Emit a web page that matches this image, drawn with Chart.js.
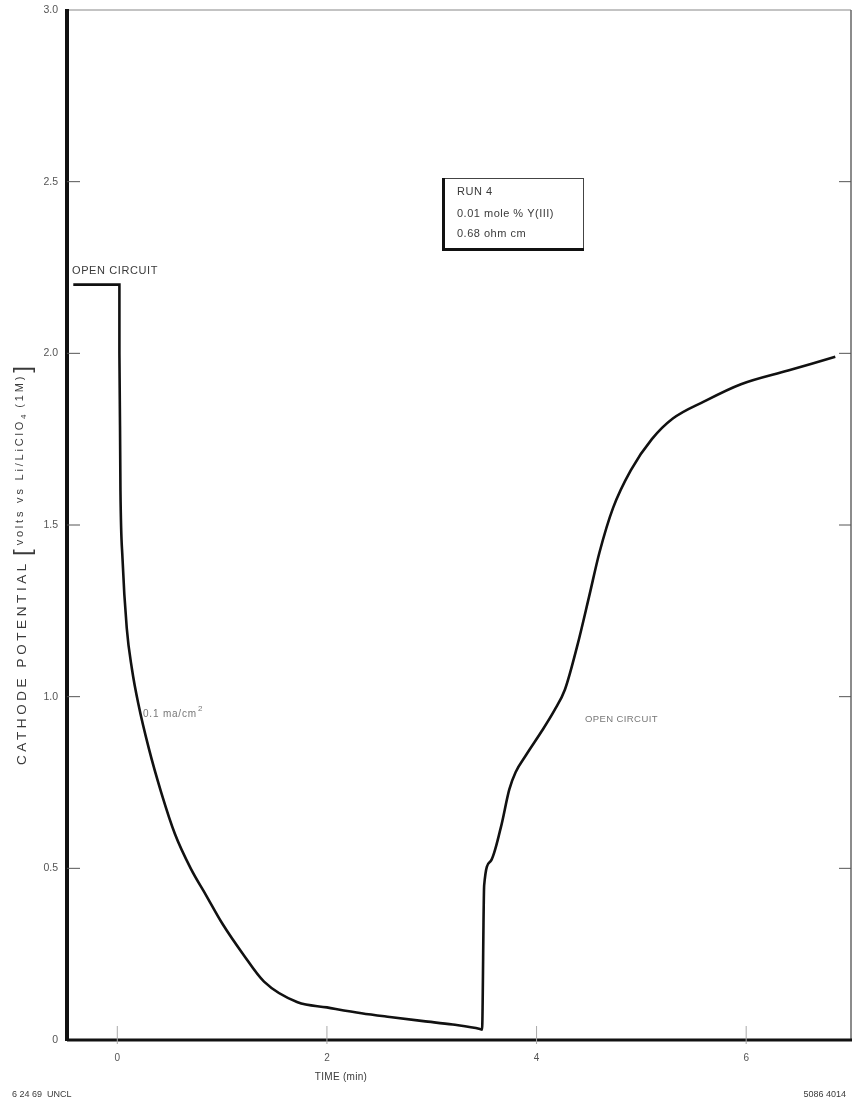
<!DOCTYPE html>
<html>
<head>
<meta charset="utf-8">
<script src="https://cdn.jsdelivr.net/npm/chart.js@4.4.1/dist/chart.umd.min.js"></script>
<style>
	body { margin: 0; background: #fff; }
	#wrap { width: 853px; height: 1108px; position: relative; }
</style>
</head>
<body>
<div id="wrap"><canvas id="runChart"></canvas></div>
<script>
// time (min) and cathode potential (volts)
var timeMin = [-0.42, 0.02, 0.02, 0.03, 0.05, 0.09, 0.14, 0.20, 0.30, 0.42, 0.55, 0.70, 0.85, 1.00, 1.20, 1.40, 1.72, 2.00, 2.33, 2.60, 2.92, 3.20, 3.46, 3.48,
	3.50, 3.56, 3.66, 3.74, 3.80, 3.90, 4.05, 4.17, 4.27, 4.39, 4.50, 4.60, 4.73, 4.90, 5.10, 5.30, 5.60, 5.95, 6.40, 6.85];
var potential = [2.20, 2.20, 2.00, 1.60, 1.40, 1.20, 1.08, 0.98, 0.85, 0.72, 0.60, 0.50, 0.42, 0.34, 0.25, 0.17, 0.11, 0.095, 0.078, 0.067, 0.055, 0.045, 0.032, 0.03,
	0.45, 0.52, 0.62, 0.73, 0.78, 0.83, 0.90, 0.96, 1.02, 1.15, 1.29, 1.42, 1.55, 1.66, 1.75, 1.81, 1.86, 1.91, 1.95, 1.99];

var xTicks = [0, 2, 4, 6];
var yTicks = [0, 0.5, 1.0, 1.5, 2.0, 2.5, 3.0];
var boxLines = ['RUN 4', '0.01 mole % Y(III)', '0.68 ohm cm'];

var points = [];
for (var i = 0; i < timeMin.length; i++) {
	points.push({ x: timeMin[i], y: potential[i] });
}

var txt = '#3a3a3a';
var fam = '"Liberation Sans", Arial, sans-serif';

var decor = {
	id: 'decor',
	beforeDatasetsDraw: function(chart) {
		var ctx = chart.ctx, a = chart.chartArea;
		var xs = chart.scales.x, ys = chart.scales.y;
		ctx.save();
		// frame: heavy left and bottom, light top and right
		ctx.strokeStyle = '#888';
		ctx.lineWidth = 1.2;
		ctx.beginPath();
		ctx.moveTo(a.left, a.top); ctx.lineTo(a.right, a.top);
		ctx.stroke();
		ctx.strokeStyle = '#666';
		ctx.lineWidth = 1.5;
		ctx.beginPath();
		ctx.moveTo(a.right, a.top); ctx.lineTo(a.right, a.bottom);
		ctx.stroke();
		ctx.strokeStyle = '#111';
		ctx.lineWidth = 4;
		ctx.beginPath();
		ctx.moveTo(a.left, a.top - 1); ctx.lineTo(a.left, a.bottom + 1);
		ctx.stroke();
		ctx.lineWidth = 3;
		ctx.beginPath();
		ctx.moveTo(a.left, a.bottom); ctx.lineTo(a.right + 1, a.bottom);
		ctx.stroke();

		// inward ticks
		ctx.strokeStyle = '#555';
		ctx.lineWidth = 1;
		yTicks.forEach(function(v) {
			if (v == 0 || v == 3) return;
			var py = ys.getPixelForValue(v);
			ctx.beginPath();
			ctx.moveTo(a.left, py); ctx.lineTo(a.left + 13, py);
			ctx.moveTo(a.right, py); ctx.lineTo(a.right - 12, py);
			ctx.stroke();
		});
		ctx.strokeStyle = '#aaa';
		xTicks.forEach(function(v) {
			var px = xs.getPixelForValue(v);
			ctx.beginPath();
			ctx.moveTo(px, a.bottom + 4); ctx.lineTo(px, a.bottom - 14);
			ctx.stroke();
		});
		ctx.restore();
	},
	afterDraw: function(chart) {
		var ctx = chart.ctx;
		ctx.save();
		ctx.fillStyle = txt;
		ctx.textBaseline = 'alphabetic';
		ctx.textAlign = 'left';

		ctx.font = '11px ' + fam;
		ctx.letterSpacing = '0.6px';
		ctx.fillText('OPEN CIRCUIT', 72, 274);

		ctx.fillStyle = '#777';
		ctx.font = '10px ' + fam;
		ctx.letterSpacing = '0.8px';
		ctx.fillText('0.1 ma/cm', 143, 717);
		var w = ctx.measureText('0.1 ma/cm').width;
		ctx.font = '8px ' + fam;
		ctx.fillText('2', 143 + w + 1, 711);

		ctx.font = '9.5px ' + fam;
		ctx.letterSpacing = '0.4px';
		ctx.fillText('OPEN CIRCUIT', 585, 722);

		// run box
		ctx.fillStyle = '#fff';
		ctx.fillRect(443, 179, 140, 70);
		ctx.strokeStyle = '#444';
		ctx.lineWidth = 1;
		ctx.strokeRect(443.5, 178.5, 140, 71);
		ctx.fillStyle = '#111';
		ctx.fillRect(442, 178, 3, 73);
		ctx.fillRect(442, 248, 142, 3);
		ctx.fillStyle = txt;
		ctx.font = '11px ' + fam;
		ctx.letterSpacing = '0.5px';
		ctx.fillText(boxLines[0], 457, 195);
		ctx.fillText(boxLines[1], 457, 217);
		ctx.fillText(boxLines[2], 457, 237);

		// axis titles
		ctx.font = '10px ' + fam;
		ctx.letterSpacing = '0.3px';
		ctx.textAlign = 'center';
		ctx.fillText('TIME (min)', 341, 1080);

		ctx.textAlign = 'left';
		ctx.font = '9px ' + fam;
		ctx.letterSpacing = '0px';
		ctx.fillText('6 24 69  UNCL', 12, 1097);
		ctx.textAlign = 'right';
		ctx.fillText('5086 4014', 846, 1097);

		// rotated y title
		ctx.translate(26, 765);
		ctx.rotate(-Math.PI / 2);
		ctx.textAlign = 'left';
		ctx.font = '13.5px ' + fam;
		ctx.letterSpacing = '3.6px';
		var t1 = 'CATHODE POTENTIAL';
		ctx.fillText(t1, 0, 0);
		var cx = ctx.measureText(t1).width + 4;
		ctx.font = '24px ' + fam;
		ctx.letterSpacing = '0px';
		ctx.fillText('[', cx, 4);
		cx += ctx.measureText('[').width + 4;
		ctx.font = '11px ' + fam;
		ctx.letterSpacing = '2.8px';
		var t2 = 'volts vs Li/LiClO';
		ctx.fillText(t2, cx, -3);
		cx += ctx.measureText(t2).width;
		ctx.font = '8px ' + fam;
		ctx.fillText('4', cx, 0);
		cx += ctx.measureText('4').width + 4;
		ctx.font = '11px ' + fam;
		ctx.fillText('(1M)', cx, -3);
		cx += ctx.measureText('(1M)').width + 1;
		ctx.font = '24px ' + fam;
		ctx.letterSpacing = '0px';
		ctx.fillText(']', cx, 4);
		ctx.restore();
	}
};

var ctx = document.getElementById('runChart').getContext('2d');
var runChart = new Chart(ctx, {
	type: 'line',
	data: {
		datasets: [{
			data: points,
			borderColor: '#111',
			borderWidth: 2.6,
			pointRadius: 0,
			fill: false,
			cubicInterpolationMode: 'monotone'
		}]
	},
	options: {
		responsive: true,
		maintainAspectRatio: false,
		animation: false,
		layout: { padding: { top: 10, right: 2, left: 0, bottom: 0 } },
		plugins: {
			legend: { display: false },
			tooltip: { enabled: false }
		},
		scales: {
			x: {
				type: 'linear',
				min: -0.48,
				max: 7.0,
				grid: { display: false },
				border: { display: false },
				afterBuildTicks: function(scale) {
					scale.ticks = xTicks.map(function(v) { return { value: v }; });
				},
				afterFit: function(scale) { scale.height = 68; },
				ticks: {
					color: '#555',
					padding: 4,
					font: { family: fam, size: 10 },
					callback: function(v) { return String(v); }
				}
			},
			y: {
				type: 'linear',
				min: 0,
				max: 3.0,
				grid: { display: false },
				border: { display: false },
				afterBuildTicks: function(scale) {
					scale.ticks = yTicks.map(function(v) { return { value: v }; });
				},
				afterFit: function(scale) { scale.width = 67; },
				ticks: {
					color: '#555',
					padding: 1,
					font: { family: fam, size: 10.5 },
					callback: function(v) { return v == 0 ? '0' : v.toFixed(1); }
				}
			}
		}
	},
	plugins: [decor]
});
</script>
</body>
</html>
